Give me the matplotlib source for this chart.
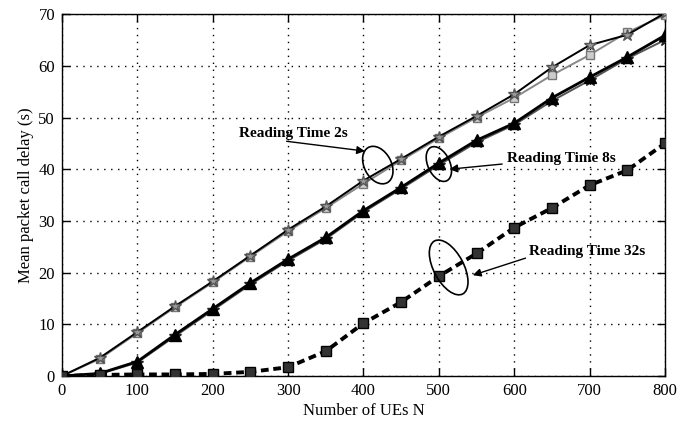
import matplotlib
matplotlib.use("Agg")
import matplotlib.pyplot as plt
from matplotlib.patches import Ellipse
from matplotlib.transforms import ScaledTranslation

plt.rcParams['font.family'] = ['Liberation Serif', 'DejaVu Serif']

# Number of UEs
n_ues = [0, 50, 100, 150, 200, 250, 300, 350, 400, 450, 500, 550, 600, 650, 700, 750, 800]

# Mean packet call delay (s) per reading time
delay_2s_a = [0, 3.5, 8.5, 13.5, 18.3, 23.3, 28.3, 32.8, 37.8, 42.0, 46.3, 50.3, 54.5, 59.7, 64.0, 66.0, 70.2]
delay_2s_b = [0, 3.3, 8.3, 13.3, 18.1, 23.1, 28.0, 32.5, 37.2, 41.7, 46.0, 50.0, 53.8, 58.2, 62.1, 66.5, 69.8]
delay_8s_a = [0, 0.5, 2.8, 8.0, 13.0, 18.0, 22.6, 26.8, 32.0, 36.5, 41.2, 45.6, 48.9, 53.8, 57.8, 61.7, 65.9]
delay_8s_b = [0, 0.4, 2.6, 7.7, 12.7, 17.7, 22.3, 26.5, 31.7, 36.2, 40.8, 45.2, 48.6, 53.2, 57.2, 61.4, 65.0]
delay_32s = [0, 0.2, 0.3, 0.3, 0.4, 0.8, 1.7, 4.8, 10.2, 14.3, 19.3, 23.7, 28.7, 32.5, 36.9, 39.8, 45.0]

x_ticks = [0, 100, 200, 300, 400, 500, 600, 700, 800]
y_ticks = [0, 10, 20, 30, 40, 50, 60, 70]

fig = plt.figure(figsize=(6.81, 4.28), dpi=100)
ax = fig.add_axes([0.091, 0.1215, 0.8855, 0.8455])

ax.plot(n_ues, delay_2s_b, color='#888888', lw=1.4, marker='s', ms=6,
        mfc='#cccccc', mec='#777777', zorder=3)
ax.plot(n_ues, delay_2s_a, color='black', lw=1.4, marker='*', ms=9,
        mfc='#999999', mec='#555555', zorder=4)
ax.plot(n_ues, delay_8s_b, color='#555555', lw=1.4, marker='*', ms=9,
        mfc='#444444', mec='#222222', zorder=3)
ax.plot(n_ues, delay_8s_a, color='black', lw=2.0, marker='^', ms=8,
        mfc='black', mec='black', zorder=4)
ax.plot(n_ues, delay_32s, color='black', lw=2.8, ls=(0, (2.0, 1.2)), marker='s', ms=7,
        mfc='#333333', mec='black', mew=1.0, zorder=4)

ax.set_xlim(0, 800)
ax.set_ylim(0, 70)
ax.set_xticks(x_ticks)
ax.set_yticks(y_ticks)
ax.grid(True, color='black', ls=(0, (1, 4)), lw=1.0)
ax.tick_params(direction='in', top=True, right=True, length=6, width=1.0,
               labelsize=12, pad=5)
for s in ax.spines.values():
    s.set_linewidth(1.0)

ax.set_xlabel('Number of UEs N', fontsize=12, labelpad=3)
ax.set_ylabel('Mean packet call delay (s)', fontsize=12, labelpad=3)


def ring(cx, cy, w, h, angle):
    tr = fig.dpi_scale_trans + ScaledTranslation(cx, cy, ax.transData)
    e = Ellipse((0, 0), w, h, angle=angle, fill=False, ec='black', lw=1.2,
                transform=tr, zorder=6, clip_on=False)
    ax.add_patch(e)


ring(419, 40.8, 0.27, 0.40, 28)
ring(500, 41.0, 0.22, 0.37, 25)
ring(513, 21.0, 0.30, 0.60, 28)

arrow = dict(arrowstyle='-|>', color='black', lw=1.0, mutation_scale=12,
             shrinkA=0, shrinkB=0)
ax.annotate('', xy=(402, 43.5), xytext=(298, 45.4), arrowprops=arrow, zorder=7)
ax.annotate('', xy=(514, 40.0), xytext=(584, 41.0), arrowprops=arrow, zorder=7)
ax.annotate('', xy=(545, 19.5), xytext=(615, 22.8), arrowprops=arrow, zorder=7)

ax.text(235, 46.9, 'Reading Time 2s', fontsize=11, fontweight='bold',
        ha='left', va='center', zorder=7)
ax.text(590, 42.1, 'Reading Time 8s', fontsize=11, fontweight='bold',
        ha='left', va='center', zorder=7)
ax.text(620, 24.1, 'Reading Time 32s', fontsize=11, fontweight='bold',
        ha='left', va='center', zorder=7)

fig.savefig('out.png', dpi=100)
